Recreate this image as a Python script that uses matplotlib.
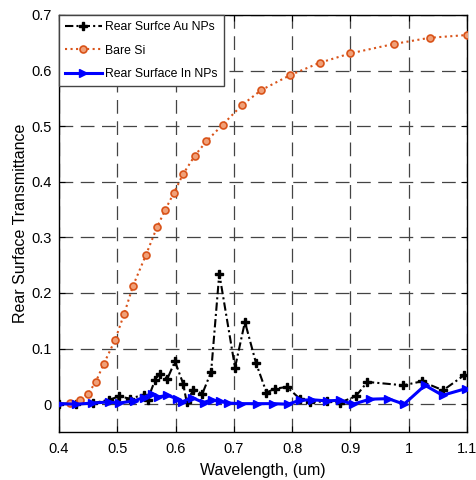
import matplotlib
matplotlib.use("Agg")
import matplotlib.pyplot as plt

plt.rcParams['font.family'] = ['Liberation Sans', 'DejaVu Sans']

# Bare Si
si_x = [0.419, 0.436, 0.450, 0.463, 0.477, 0.496, 0.512, 0.527, 0.549, 0.568,
        0.582, 0.597, 0.613, 0.633, 0.653, 0.681, 0.714, 0.747, 0.797, 0.847,
        0.900, 0.975, 1.036, 1.100]
si_y = [0.002, 0.007, 0.019, 0.040, 0.073, 0.115, 0.163, 0.213, 0.268, 0.318,
        0.349, 0.380, 0.414, 0.447, 0.473, 0.503, 0.538, 0.565, 0.592, 0.614,
        0.631, 0.648, 0.659, 0.664]

# Rear surface Au NPs
au_x = [0.400, 0.430, 0.459, 0.486, 0.503, 0.522, 0.545, 0.552, 0.565, 0.573,
        0.586, 0.599, 0.613, 0.619, 0.630, 0.646, 0.661, 0.675, 0.702, 0.719,
        0.738, 0.756, 0.771, 0.791, 0.813, 0.831, 0.859, 0.882, 0.909, 0.929,
        0.991, 1.022, 1.059, 1.095]
au_y = [0.001, 0.001, 0.002, 0.008, 0.014, 0.010, 0.017, 0.008, 0.044, 0.055,
        0.046, 0.077, 0.037, 0.004, 0.025, 0.019, 0.058, 0.235, 0.066, 0.148,
        0.074, 0.021, 0.028, 0.031, 0.010, 0.004, 0.005, 0.003, 0.014, 0.040,
        0.034, 0.041, 0.025, 0.052]

# Rear surface In NPs
in_x = [0.400, 0.430, 0.456, 0.485, 0.503, 0.529, 0.545, 0.559, 0.570, 0.586,
        0.602, 0.611, 0.628, 0.648, 0.662, 0.676, 0.690, 0.713, 0.739, 0.768,
        0.793, 0.813, 0.834, 0.859, 0.882, 0.905, 0.933, 0.965, 0.992, 1.028,
        1.058, 1.098]
in_y = [0.001, 0.000, 0.002, 0.004, 0.002, 0.006, 0.012, 0.019, 0.013, 0.016,
        0.010, 0.004, 0.012, 0.003, 0.008, 0.005, 0.002, 0.001, 0.001, 0.001,
        0.000, 0.007, 0.008, 0.006, 0.007, 0.000, 0.009, 0.010, 0.000, 0.034,
        0.016, 0.028]

fig = plt.figure(figsize=(4.77, 4.8), dpi=100)
ax = fig.add_axes([59 / 477, 1 - 432 / 480, 408 / 477, 417 / 480])

ax.plot(au_x, au_y, color='black', linestyle=(0, (4, 1.5, 1, 1.5)), linewidth=1.5,
        marker='P', markersize=6, label='Rear Surfce Au NPs', zorder=3)
ax.plot(si_x, si_y, color='#D95319', linestyle=':', linewidth=1.5,
        marker='o', markersize=5, markerfacecolor='#F0A078', markeredgewidth=1.2,
        label='Bare Si', zorder=3)
ax.plot(in_x, in_y, color='blue', linestyle='-', linewidth=2.2,
        marker='>', markersize=6, label='Rear Surface In NPs', zorder=3)

ax.set_xlim(0.4, 1.1)
ax.set_ylim(-0.05, 0.7)
ax.set_xticks([0.4, 0.5, 0.6, 0.7, 0.8, 0.9, 1.0, 1.1])
ax.set_xticklabels(['0.4', '0.5', '0.6', '0.7', '0.8', '0.9', '1', '1.1'])
ax.set_yticks([0, 0.1, 0.2, 0.3, 0.4, 0.5, 0.6, 0.7])
ax.set_yticklabels(['0', '0.1', '0.2', '0.3', '0.4', '0.5', '0.6', '0.7'])
ax.tick_params(direction='in', top=True, right=True, labelsize=10.5, length=4)
ax.tick_params(axis='x', pad=7)
ax.tick_params(axis='y', pad=5)
ax.grid(True, color='#444444', linestyle=(0, (11, 6)), linewidth=0.9)
ax.set_axisbelow(True)
for s in ax.spines.values():
    s.set_linewidth(1)

ax.set_xlabel('Wavelength, (um)', fontsize=11.5, labelpad=5)
ax.set_ylabel('Rear Surface Transmittance', fontsize=11.5, labelpad=2.5)

leg = ax.legend(loc='upper left', fontsize=8.8, fancybox=False, framealpha=1,
                edgecolor='#444444', borderaxespad=0, handlelength=3.0,
                borderpad=0.5, labelspacing=0.95, handletextpad=0.3)
leg.get_frame().set_linewidth(1)

fig.savefig('out.png', dpi=100)
